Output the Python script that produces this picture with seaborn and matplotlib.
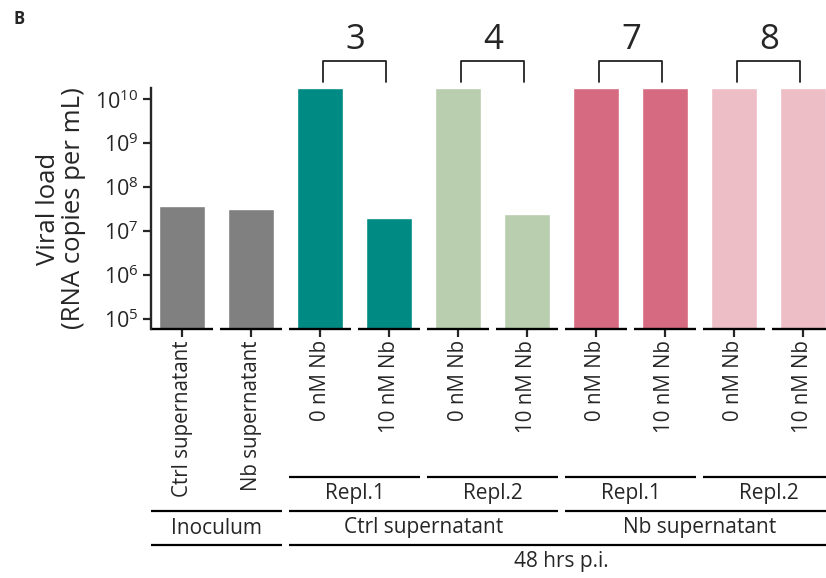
import numpy as np
import pandas as pd
import matplotlib
matplotlib.use("Agg")
from matplotlib import pyplot as plt
from matplotlib.transforms import blended_transform_factory
import seaborn as sns

# data
bar_ids = ["inoc_ctrl", "inoc_nb", "c1_0", "c1_10", "c2_0", "c2_10",
           "n1_0", "n1_10", "n2_0", "n2_10"]
tick_labels = ["Ctrl supernatant", "Nb supernatant",
               "0 nM Nb", "10 nM Nb", "0 nM Nb", "10 nM Nb",
               "0 nM Nb", "10 nM Nb", "0 nM Nb", "10 nM Nb"]
viral_load = [3.7e7, 3.2e7, 1.8e10, 2.0e7, 1.8e10, 2.5e7,
              1.8e10, 1.8e10, 1.8e10, 1.8e10]
bar_colors = ["#808080", "#808080", "#008a84", "#008a84", "#b9cdaf", "#b9cdaf",
              "#d56a81", "#d56a81", "#edbec5", "#edbec5"]

# bracket numbers above each pair (first bar index, label)
pair_start = [2, 4, 6, 8]
pair_label = ["3", "4", "7", "8"]

# grouping rows under the axis: (first bar, last bar, label)
repl_groups = [(2, 3, "Repl.1"), (4, 5, "Repl.2"), (6, 7, "Repl.1"), (8, 9, "Repl.2")]
cond_groups = [(0, 1, "Inoculum"), (2, 5, "Ctrl supernatant"), (6, 9, "Nb supernatant")]
time_groups = [(0, 1, ""), (2, 9, "48 hrs p.i.")]

df = pd.DataFrame({"bar": bar_ids, "load": viral_load})

sns.set_style("ticks")
plt.rcParams["font.family"] = ["Open Sans", "DejaVu Sans"]
plt.rcParams["mathtext.fontset"] = "custom"
plt.rcParams["mathtext.rm"] = "Open Sans"

W, H = 826, 578
fig = plt.figure(figsize=(W / 100, H / 100), dpi=100)
ax = fig.add_axes([151 / W, 1 - 329 / H, 683 / W, 241 / H])

sns.barplot(data=df, x="bar", y="load", hue="bar", palette=bar_colors,
            legend=False, width=0.667, saturation=1, ax=ax)
ax.set_yscale("log")
ax.set_ylim(5.93e4, 1.8e10)
ax.set_xlim(-0.45, 9.45)
ax.set_yticks([1e5, 1e6, 1e7, 1e8, 1e9, 1e10])
ax.yaxis.set_minor_locator(matplotlib.ticker.NullLocator())

ax.set_xticks(range(len(bar_ids)))
ax.set_xticklabels(tick_labels, rotation=90, va="top", ha="center")
ax.tick_params(axis="x", length=6, width=1.6, pad=2, labelsize=14.8)
ax.tick_params(axis="y", length=6, width=1.6, pad=3, labelsize=15.5)
ax.set_xlabel("")

for s in ["top", "right", "bottom"]:
    ax.spines[s].set_visible(False)
ax.spines["left"].set_linewidth(1.7)

ax.set_ylabel("Viral load\n(RNA copies per mL)", fontsize=18.5, va="center",
              linespacing=1.05)
ax.yaxis.set_label_coords((61 - 151) / 683, 0.5)

# segmented x axis, one piece per bar
xa = blended_transform_factory(ax.transData, ax.transAxes)
for i in range(len(bar_ids)):
    ax.plot([i - 0.45, i + 0.45], [0, 0], transform=xa, clip_on=False,
            color="black", lw=1.7, solid_capstyle="butt")

# group lines and labels below
xf = blended_transform_factory(ax.transData, fig.transFigure)


def fy(px):
    return 1 - px / H


def group_row(groups, line_px, text_px, fs=15):
    for a, b, lab in groups:
        ax.plot([a - 0.45, b + 0.45], [fy(line_px), fy(line_px)], transform=xf,
                clip_on=False, color="black", lw=1.6, solid_capstyle="butt")
        if lab:
            ax.text((a + b) / 2, fy(text_px), lab, transform=xf, ha="center",
                    va="center", fontsize=fs)


group_row(repl_groups, 477, 493)
group_row(cond_groups, 511, 528)
group_row(time_groups, 545, 562)

# brackets with numbers above pairs
for a, lab in zip(pair_start, pair_label):
    x0, x1 = a + 0.05, a + 0.96
    ax.plot([x0, x0, x1, x1], [fy(82), fy(61), fy(61), fy(82)], transform=xf,
            clip_on=False, color="#222222", lw=1.3)
    ax.text((x0 + x1) / 2, fy(40), lab, transform=xf, ha="center", va="center",
            fontsize=25)

fig.text(13 / W, fy(19), "B", fontsize=12, fontweight="bold", ha="left", va="center")

fig.savefig("out.png", dpi=100)
